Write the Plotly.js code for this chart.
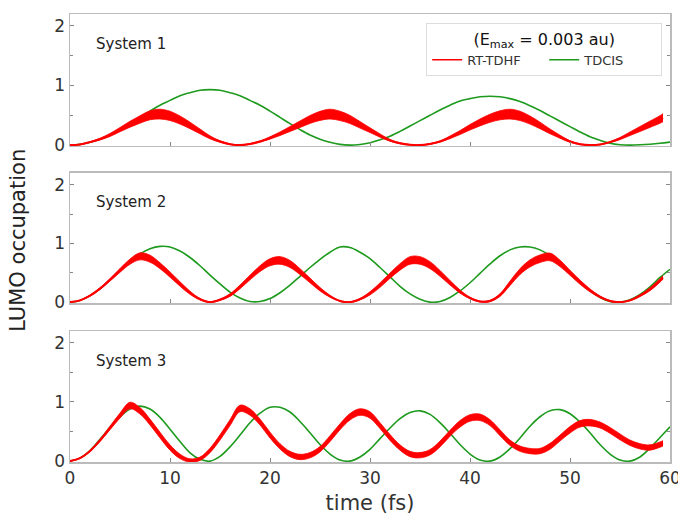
<!DOCTYPE html>
<html>
<head>
<meta charset="utf-8">
<script src="https://cdn.plot.ly/plotly-3.0.1.min.js"></script>
<style>html,body{margin:0;padding:0;background:#fff;}#chart{width:678px;height:522px;}</style>
</head>
<body>
<div id="chart"></div>
<script>
// time axes (fs)
const tGreen = [0,1,2,3,4,5,6,7,8,9,10,11,12,13,14,15,16,17,18,19,20,21,22,23,24,25,26,27,28,29,30,31,32,33,34,35,36,37,38,39,40,41,42,43,44,45,46,47,48,49,50,51,52,53,54,55,56,57,58,59,60];
const tRed = [0,1,2,3,4,5,6,7,8,9,10,11,12,13,14,15,16,17,18,19,20,21,22,23,24,25,26,27,28,29,30,31,32,33,34,35,36,37,38,39,40,41,42,43,44,45,46,47,48,49,50,51,52,53,54,55,56,57,58,59,59.3];

// System 1
const greenS1 = [0,0.012,0.047,0.10,0.17,0.26,0.36,0.465,0.57,0.67,
  0.75,0.83,0.88,0.92,0.93,0.92,0.88,0.83,0.75,0.67,
  0.57,0.465,0.36,0.26,0.17,0.10,0.047,0.012,0,0.01,
  0.04,0.09,0.15,0.23,0.32,0.41,0.50,0.59,0.67,0.74,
  0.78,0.81,0.82,0.81,0.78,0.73,0.66,0.58,0.49,0.40,
  0.31,0.22,0.14,0.08,0.03,0.005,0,0.005,0.015,0.03,0.05];
const redS1 = [0,0.01,0.05,0.10,0.17,0.26,0.35,0.43,0.50,0.52,
  0.49,0.42,0.33,0.23,0.13,0.06,0.015,0,0.02,0.06,
  0.12,0.19,0.27,0.35,0.43,0.49,0.52,0.49,0.43,0.34,
  0.25,0.16,0.08,0.03,0.005,0,0.02,0.06,0.13,0.21,
  0.30,0.38,0.45,0.50,0.52,0.49,0.42,0.33,0.23,0.14,
  0.06,0.015,0,0.01,0.05,0.11,0.19,0.27,0.35,0.43,0.46];
const spreadS1 = [0.004,0.004,0.008,0.015,0.025,0.035,0.05,0.062,0.075,0.082,
  0.078,0.068,0.055,0.04,0.025,0.013,0.006,0.005,0.006,0.01,
  0.02,0.03,0.042,0.055,0.066,0.076,0.082,0.078,0.068,0.055,
  0.04,0.027,0.015,0.008,0.005,0.005,0.006,0.01,0.022,0.033,
  0.046,0.058,0.068,0.076,0.082,0.078,0.068,0.055,0.04,0.026,
  0.013,0.006,0.005,0.005,0.008,0.018,0.03,0.042,0.053,0.064,0.068];

// System 2
const greenS2 = [0,0.028,0.11,0.23,0.38,0.54,0.69,0.82,0.91,0.95,
  0.94,0.87,0.76,0.62,0.46,0.31,0.17,0.07,0.01,0.01,
  0.06,0.16,0.29,0.44,0.59,0.73,0.85,0.94,0.93,0.85,
  0.74,0.59,0.43,0.27,0.14,0.05,0.0,0.01,0.08,0.19,
  0.33,0.49,0.65,0.79,0.89,0.94,0.94,0.89,0.79,0.65,
  0.49,0.33,0.19,0.08,0.01,0.0,0.04,0.13,0.26,0.42,0.56];
const redS2 = [0,0.03,0.11,0.23,0.38,0.54,0.69,0.78,0.74,0.62,
  0.47,0.31,0.16,0.05,0.0,0.04,0.12,0.26,0.42,0.57,
  0.68,0.71,0.65,0.52,0.37,0.22,0.10,0.02,0.0,0.05,
  0.15,0.29,0.45,0.60,0.71,0.71,0.63,0.49,0.33,0.18,
  0.07,0.01,0.02,0.12,0.32,0.52,0.66,0.74,0.77,0.66,
  0.50,0.34,0.20,0.09,0.02,0.0,0.03,0.11,0.22,0.37,0.42];
const spreadS2 = [0.004,0.005,0.01,0.015,0.022,0.032,0.045,0.06,0.06,0.05,
  0.045,0.038,0.027,0.014,0.008,0.012,0.022,0.032,0.04,0.05,
  0.06,0.065,0.06,0.05,0.04,0.03,0.017,0.008,0.008,0.014,
  0.027,0.038,0.045,0.055,0.065,0.065,0.06,0.05,0.038,0.027,
  0.014,0.008,0.012,0.022,0.038,0.05,0.06,0.065,0.065,0.055,
  0.042,0.035,0.025,0.015,0.008,0.006,0.008,0.015,0.025,0.03,0.03];

// System 3
const greenS3 = [0,0.05,0.18,0.37,0.57,0.75,0.88,0.93,0.88,0.74,
  0.54,0.33,0.14,0.03,0.0,0.08,0.24,0.44,0.65,0.81,
  0.91,0.91,0.83,0.67,0.48,0.28,0.12,0.02,0.0,0.07,
  0.20,0.38,0.56,0.72,0.82,0.85,0.79,0.65,0.47,0.28,
  0.12,0.02,0.0,0.07,0.21,0.39,0.59,0.75,0.85,0.87,
  0.80,0.66,0.48,0.28,0.12,0.02,0.0,0.07,0.22,0.40,0.58];
const redS3 = [0,0.05,0.17,0.35,0.56,0.77,0.94,0.85,0.66,0.44,
  0.23,0.08,0.01,0.04,0.18,0.40,0.65,0.89,0.83,0.66,
  0.44,0.25,0.12,0.07,0.10,0.20,0.38,0.58,0.75,0.83,
  0.78,0.60,0.40,0.23,0.12,0.10,0.15,0.29,0.47,0.63,
  0.73,0.74,0.65,0.48,0.31,0.21,0.17,0.17,0.25,0.39,
  0.53,0.63,0.65,0.61,0.52,0.41,0.31,0.25,0.23,0.28,0.30];
const spreadS3 = [0.004,0.006,0.012,0.02,0.03,0.042,0.055,0.055,0.05,0.048,
  0.045,0.038,0.028,0.028,0.038,0.045,0.05,0.055,0.055,0.05,
  0.05,0.045,0.045,0.045,0.045,0.045,0.05,0.05,0.055,0.055,
  0.055,0.05,0.05,0.045,0.045,0.045,0.045,0.05,0.05,0.055,
  0.055,0.055,0.05,0.05,0.045,0.045,0.045,0.045,0.05,0.05,
  0.055,0.055,0.055,0.05,0.05,0.05,0.045,0.045,0.045,0.045,0.045];

const systemLabels = ['System 1','System 2','System 3'];
const seriesNames = ['RT-TDHF','TDCIS'];
const legendTitle = '(E<sub>max</sub> = 0.003 au)';
const yTickVals = [0,1,2];
const yTickText = ['0','1','2'];
const xTickVals = [0,10,20,30,40,50,60];

const RED = '#ff0000', GREEN = '#1e9a1e';
const systems = [
  {g: greenS1, r: redS1, s: spreadS1},
  {g: greenS2, r: redS2, s: spreadS2},
  {g: greenS3, r: redS3, s: spreadS3}
];

const traces = [];
// legend entries first
traces.push({x: [null], y: [null], mode: 'lines', line: {color: RED, width: 1.6}, name: seriesNames[0], showlegend: true, hoverinfo: 'skip'});
traces.push({x: [null], y: [null], mode: 'lines', line: {color: GREEN, width: 1.6}, name: seriesNames[1], showlegend: true, hoverinfo: 'skip'});
systems.forEach((sys, i) => {
  const xa = i === 0 ? 'x' : 'x' + (i + 1);
  const ya = i === 0 ? 'y' : 'y' + (i + 1);
  traces.push({x: tGreen, y: sys.g, xaxis: xa, yaxis: ya, mode: 'lines', type: 'scatter',
    line: {color: GREEN, width: 1.6, shape: 'spline'}, name: seriesNames[1], showlegend: false, hoverinfo: 'skip'});
  const lo = sys.r.map((v, k) => v - sys.s[k]);
  const hi = sys.r.map((v, k) => v + sys.s[k]);
  traces.push({x: tRed, y: lo, xaxis: xa, yaxis: ya, mode: 'lines', type: 'scatter',
    line: {color: RED, width: 0.8, shape: 'spline'}, showlegend: false, hoverinfo: 'skip'});
  traces.push({x: tRed, y: hi, xaxis: xa, yaxis: ya, mode: 'lines', type: 'scatter', fill: 'tonexty',
    fillcolor: RED, line: {color: RED, width: 0.8, shape: 'spline'}, showlegend: false, hoverinfo: 'skip'});
  traces.push({x: tRed, y: sys.r, xaxis: xa, yaxis: ya, mode: 'lines', type: 'scatter',
    line: {color: RED, width: 2, shape: 'spline'}, name: seriesNames[0], showlegend: false, hoverinfo: 'skip'});
});

const axisFont = {family: 'DejaVu Sans, sans-serif', size: 17, color: '#333'};
function yAxis(domain) {
  return {domain: domain, range: [-0.015, 2.2], tickvals: yTickVals, ticktext: yTickText,
    ticks: 'inside', ticklen: 4, tickwidth: 1, tickcolor: '#888',
    minor: {tickvals: [0.5, 1.5], ticks: 'inside', ticklen: 3, tickcolor: '#888'},
    showline: true, linecolor: '#bbb', linewidth: 1.5, mirror: 'ticks',
    showgrid: false, zeroline: false, tickfont: axisFont, fixedrange: true};
}
function xAxis(anchor, labels) {
  return {anchor: anchor, range: [0, 60], tickvals: xTickVals, ticks: 'inside', ticklen: 4,
    tickcolor: '#888', showticklabels: labels, showline: true, linecolor: '#bbb', linewidth: 1.5,
    mirror: true, showgrid: false, zeroline: false, tickfont: axisFont, fixedrange: true,
    ticklabeloverflow: 'allow'};
}

const layout = {
  width: 678, height: 522,
  margin: {l: 70, r: 8, t: 14, b: 60},
  paper_bgcolor: '#fff', plot_bgcolor: '#fff',
  showlegend: true,
  font: {family: 'DejaVu Sans, sans-serif', color: '#333'},
  xaxis: xAxis('y', false),
  xaxis2: xAxis('y2', false),
  xaxis3: Object.assign(xAxis('y3', true), {title: {text: 'time (fs)', font: {size: 21, color: '#333'}, standoff: 8}}),
  yaxis: yAxis([0.7054, 1]),
  yaxis2: yAxis([0.3549, 0.6451]),
  yaxis3: yAxis([0, 0.2924]),
  legend: {x: 0.987, y: 0.98, xanchor: 'right', yanchor: 'top', orientation: 'h', traceorder: 'normal',
    bgcolor: '#fff', bordercolor: '#ddd', borderwidth: 1,
    font: {size: 13, color: '#333'}, entrywidth: 72, entrywidthmode: 'pixels',
    title: {text: legendTitle, side: 'top center', font: {size: 16, color: '#111'}}},
  annotations: [
    {text: systemLabels[0], xref: 'x', yref: 'y', x: 2.4, y: 1.7, xanchor: 'left', yanchor: 'middle', showarrow: false, font: {size: 15, color: '#222'}},
    {text: systemLabels[1], xref: 'x2', yref: 'y2', x: 2.4, y: 1.7, xanchor: 'left', yanchor: 'middle', showarrow: false, font: {size: 15, color: '#222'}},
    {text: systemLabels[2], xref: 'x3', yref: 'y3', x: 2.4, y: 1.7, xanchor: 'left', yanchor: 'middle', showarrow: false, font: {size: 15, color: '#222'}},
    {text: 'LUMO occupation', xref: 'paper', yref: 'paper', x: -0.087, y: 0.4955, textangle: -90,
      xanchor: 'center', yanchor: 'middle', showarrow: false, font: {size: 21, color: '#222'}}
  ]
};

Plotly.newPlot('chart', traces, layout, {displayModeBar: false, staticPlot: true});
</script>
</body>
</html>
